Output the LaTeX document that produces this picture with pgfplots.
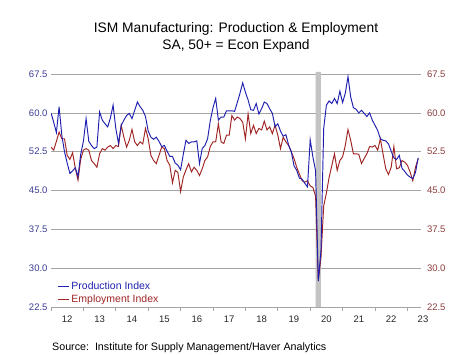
\documentclass[border=0pt]{standalone}
\usepackage{pgfplots}
\pgfplotsset{compat=1.18}
\usepackage{pgfplotstable}
\usepackage{fontspec}
\setmainfont{Liberation Sans}
\definecolor{prodblue}{RGB}{32,32,176}
\definecolor{empred}{RGB}{160,36,36}
\definecolor{lblblue}{RGB}{60,60,150}
\definecolor{lblred}{RGB}{140,60,60}
\definecolor{gridgray}{RGB}{165,165,165}
\definecolor{recgray}{RGB}{195,195,195}
\pgfplotstableread{
m P E
0 60.0 53.4
1 58.2 52.8
2 56.2 54.5
3 61.2 56.3
4 55.7 55.0
5 52.5 55.0
6 50.3 51.8
7 48.3 51.0
8 48.8 52.3
9 49.4 49.3
10 47.7 47.0
11 52.0 51.0
12 54.5 52.8
13 58.9 53.1
14 54.5 52.8
15 53.7 50.8
16 53.1 50.2
17 53.4 49.5
18 60.2 52.1
19 58.6 53.1
20 57.9 52.8
21 57.3 53.4
22 59.0 53.7
23 61.5 53.1
24 57.0 53.7
25 54.1 53.5
26 57.6 57.6
27 58.6 55.3
28 59.5 53.4
29 59.9 54.7
30 58.9 56.8
31 60.5 54.4
32 62.1 53.7
33 61.2 54.4
34 60.5 54.0
35 59.3 57.0
36 56.5 55.0
37 55.3 51.8
38 54.9 50.8
39 55.3 50.2
40 54.5 51.8
41 53.5 53.4
42 53.7 53.1
43 52.6 50.8
44 51.6 49.9
45 51.6 46.5
46 50.3 48.9
47 49.9 48.5
48 49.0 44.8
49 52.0 47.6
50 54.7 49.0
51 54.1 50.2
52 54.4 48.6
53 54.4 49.5
54 54.6 48.9
55 50.2 47.9
56 53.1 49.2
57 53.7 50.8
58 55.0 51.5
59 58.5 53.5
60 61.0 54.4
61 62.8 54.4
62 58.6 57.9
63 59.2 54.4
64 59.2 54.1
65 60.4 55.7
66 60.4 55.7
67 60.4 59.5
68 60.3 58.6
69 62.0 59.2
70 63.8 58.9
71 65.8 58.2
72 64.0 55.0
73 62.5 59.8
74 60.6 56.0
75 60.5 57.6
76 61.8 56.0
77 59.8 57.0
78 60.8 56.7
79 62.1 58.4
80 61.8 56.7
81 60.8 57.3
82 59.9 56.0
83 57.3 57.6
84 57.9 55.7
85 56.5 53.1
86 55.5 55.3
87 55.8 54.4
88 53.8 53.7
89 52.5 52.5
90 49.8 51.2
91 48.9 49.5
92 47.4 48.2
93 47.2 46.9
94 46.4 46.6
95 45.7 46.9
96 54.8 45.9
97 51.5 45.6
98 48.8 43.9
99 27.5 27.5
100 33.5 32.1
101 57.0 42.0
102 61.5 44.5
103 62.3 47.5
104 61.8 49.8
105 62.8 52.1
106 61.8 48.9
107 64.2 50.8
108 62.0 51.5
109 63.8 53.7
110 67.0 56.8
111 63.1 54.7
112 61.0 52.1
113 60.7 52.1
114 60.0 52.0
115 60.5 50.2
116 59.9 51.2
117 59.3 52.1
118 60.0 53.5
119 58.6 53.4
120 57.6 53.7
121 56.6 52.8
122 55.0 55.0
123 54.7 52.0
124 54.6 49.2
125 54.0 48.1
126 52.6 49.5
127 51.3 53.5
128 51.0 49.2
129 51.8 49.4
130 49.3 50.8
131 48.7 50.5
132 48.0 49.9
133 47.6 48.6
134 47.3 46.9
135 48.5 49.5
136 51.3 51.2
}\ismdata
\begin{document}
\begin{tikzpicture}
\path[use as bounding box] (0pt,0pt) rectangle (474pt,-355pt);
\begin{axis}[
  at={(51pt,-307pt)}, anchor=south west, scale only axis,
  width=370pt, height=235pt,
  xmin=2012, xmax=2023.42, ymin=22.5, ymax=67.9,
  axis x line*=bottom, axis y line*=left,
  x axis line style={draw=gridgray, line width=0.6pt},
  y axis line style={draw=none},
  ytick={22.5,30,...,67.5},
  ymajorgrids, grid style={gridgray, line width=0.6pt},
  xtick={2012.5,2013.5,2014.5,2015.5,2016.5,2017.5,2018.5,2019.5,2020.5,2021.5,2022.5},
  xticklabels={12,13,14,15,16,17,18,19,20,21,22},
  minor xtick={2012,2013,2014,2015,2016,2017,2018,2019,2020,2021,2022,2023},
  major tick length=0pt, minor tick length=4pt, tick align=outside,
  tick style={gridgray, line width=0.6pt},
  yticklabel style={font=\fontsize{9.5}{11}\selectfont, text=lblblue},
  xticklabel style={font=\fontsize{9.5}{11}\selectfont, text=black!85, anchor=base, yshift=-15.7pt},
  /pgf/number format/.cd, fixed, fixed zerofill, precision=1, assume math mode=true,
  /pgfplots/.cd,
  legend style={at={(0.015,0.0)}, anchor=south west, draw=none, fill=none,
    inner sep=1pt, row sep=1.5pt, font=\fontsize{10.5}{12}\selectfont,
    nodes={inner sep=1.5pt}},
  legend cell align=left,
  legend image code/.code={\draw[#1, line width=1.2pt] (0pt,0pt) -- (11pt,0pt);},
]
\addplot[fill=recgray, draw=none, forget plot] coordinates {(2020.17,22.5) (2020.33,22.5) (2020.33,67.9) (2020.17,67.9)} \closedcycle;
\addplot[empred, line width=0.95pt, forget plot] table[x expr=2012+\thisrow{m}/12, y=E] {\ismdata};
\addplot[prodblue, line width=0.95pt] table[x expr=2012+\thisrow{m}/12, y=P] {\ismdata};
\addlegendentry{\textcolor{prodblue}{Production Index}}
\addlegendimage{empred, line width=0.95pt}
\addlegendentry{\textcolor{empred}{Employment Index}}
\end{axis}
\begin{axis}[
  at={(51pt,-307pt)}, anchor=south west, scale only axis,
  width=370pt, height=235pt,
  xmin=2012, xmax=2023.42, ymin=22.5, ymax=67.9,
  axis y line*=right, axis x line=none,
  y axis line style={draw=none},
  ytick={22.5,30,...,67.5}, major tick length=0pt,
  yticklabel style={font=\fontsize{9.5}{11}\selectfont, text=lblred, xshift=2.5pt},
  /pgf/number format/.cd, fixed, fixed zerofill, precision=1, assume math mode=true,
]
\addplot[draw=none] coordinates {(2012,22.5)};
\end{axis}
\node[anchor=base, font=\fontsize{9.5}{11}\selectfont, text=black!85] at (423pt,-322.7pt) {23};
\node[anchor=base, font=\fontsize{13.8}{16}\selectfont] at (236pt,-33pt) {ISM Manufacturing: Production \& Employment};
\node[anchor=base, font=\fontsize{13.8}{16}\selectfont] at (236pt,-50pt) {SA, 50+ = Econ Expand};
\node[anchor=base west, inner sep=0pt, font=\fontsize{10.7}{12}\selectfont] at (52pt,-351pt) {Source:\ \ Institute for Supply Management/Haver Analytics};
\end{tikzpicture}
\end{document}
